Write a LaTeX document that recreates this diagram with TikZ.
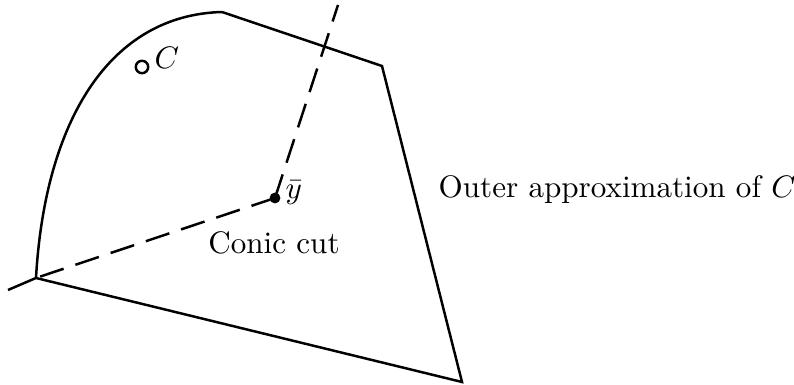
\documentclass[tikz,border=0pt]{standalone}
\usepackage{amsmath,amssymb}
\usetikzlibrary{positioning}

\begin{document}
\begin{tikzpicture}[
  x=0.0113cm, y=-0.0113cm,
  edge/.style={thick},
  cut/.style={thick,dash pattern=on 0.28cm off 0.14cm},
  lbl/.style={inner sep=1pt}
]
  \useasboundingbox (0,0) rectangle (794,385);
  % corners of the outer approximation
  \coordinate (ll) at (36,278);
  \coordinate (top) at (222,12);
  \coordinate (ur) at (382,66);
  \coordinate (lr) at (462,382);
  \coordinate (tail) at (8,290);
  \coordinate (ray) at (338,5);
  \node[circle,fill,inner sep=0pt,minimum size=3.5pt] (yb) at (275,198) {};
  \node[circle,draw,thick,inner sep=0pt,minimum size=4pt] (pt) at (142,67) {};
  % labels
  \node[lbl,right=0.5pt of pt,yshift=3pt] (cl) {$C$};
  \node[lbl,anchor=west] (ybl) at (282,193) {$\bar{y}$};
  \node[lbl] (cc) at (274,243) {Conic cut};
  \node[lbl,anchor=west] (outer) at (435,190) {Outer approximation of $C$};
  % the set and its approximation
  \draw[edge] (ll) .. controls (45,120) and (110,15) .. (top);
  \draw[edge] (top) -- (ur) -- (lr) -- (ll) -- (tail);
  \draw[cut] (yb.center) -- (ll);
  \draw[cut] (yb.center) -- (ray);
\end{tikzpicture}
\end{document}
